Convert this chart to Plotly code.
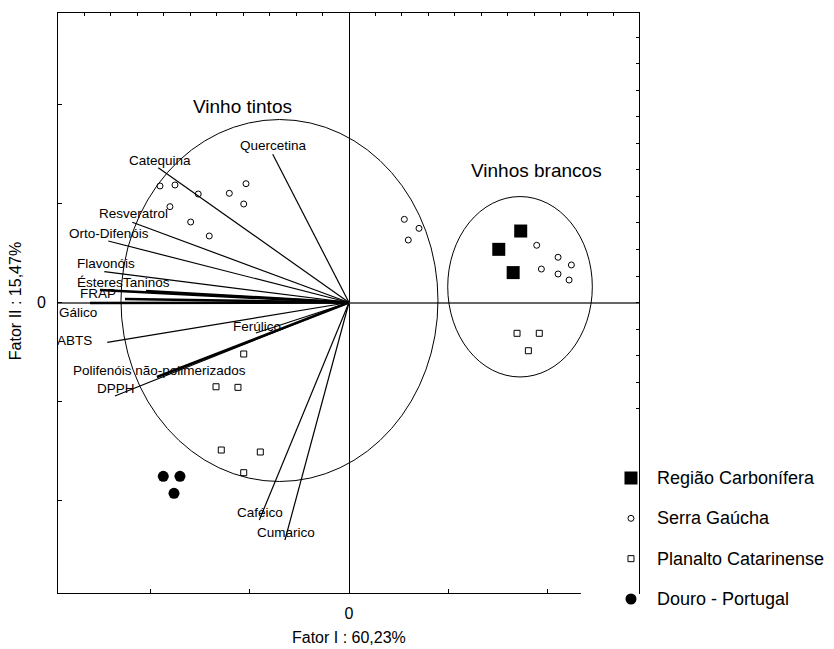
import plotly.graph_objects as go

# ---- Variable loadings (vector end points) ----
var_names = ["Quercetina", "Catequina", "Resveratrol", "Orto-Difenóis", "Flavonóis",
             "Ésteres", "Taninos", "FRAP", "Gálico", "ABTS", "Ferúlico",
             "Polifenóis não-polimerizados", "DPPH", "Caféico", "Cumarico"]
var_x = [-0.768, -1.920, -2.182, -2.424, -2.464, -2.508, -2.044, -2.256, -2.608,
         -2.434, -0.937, -1.934, -2.357, -0.903, -0.645]
var_y = [1.497, 1.362, 0.810, 0.621, 0.311, 0.126, 0.116, 0.035, -0.005,
         -0.402, -0.308, -0.753, -0.944, -2.197, -2.399]
# label anchor points for each variable
lab_x = [-0.765, -1.908, -2.165, -2.420, -2.447, -2.503, -2.034, -2.528, -2.729,
         -2.764, -0.926, -1.913, -2.351, -0.896, -0.634]
lab_y = [1.581, 1.439, 0.904, 0.702, 0.389, 0.207, 0.207, 0.096, -0.096,
         -0.379, -0.244, -0.682, -0.864, -2.123, -2.325]

# ---- Sample scores ----
region_names = ["Região Carbonífera", "Serra Gaúcha", "Planalto Catarinense", "Douro - Portugal"]
rc_x = [1.729, 1.508, 1.653]
rc_y = [0.722, 0.537, 0.302]
sg_x = [-1.903, -1.752, -1.518, -1.205, -1.037, -1.060, -1.803, -1.594, -1.407,
        0.557, 0.597, 0.705, 1.890, 2.105, 2.239, 1.937, 2.105, 2.216]
sg_y = [1.177, 1.187, 1.096, 1.103, 1.200, 0.995, 0.968, 0.813, 0.672,
        0.840, 0.631, 0.749, 0.578, 0.457, 0.379, 0.338, 0.288, 0.227]
pc_x = [-1.060, -1.339, -1.118, -1.286, -0.893, -1.060, 1.692, 1.916, 1.806]
pc_y = [-0.520, -0.851, -0.857, -1.490, -1.510, -1.719, -0.311, -0.311, -0.487]
dp_x = [-1.870, -1.702, -1.762]
dp_y = [-1.756, -1.756, -1.927]

# ---- Group ellipses (centre x, centre y, half width, half height) ----
group_names = ["Vinho tintos", "Vinhos brancos"]
ell_cx = [-0.700, 1.722]
ell_cy = [0.020, 0.159]
ell_rx = [1.596, 0.728]
ell_ry = [1.828, 0.911]
group_lab_x = [-1.073, 1.883]
group_lab_y = [1.978, 1.331]

x_title = "Fator I : 60,23%"
y_title = "Fator II : 15,47%"
main_ticks = [-2, -1, 0, 1, 2]
main_ticktext = ["", "", "0", "", ""]

XR = [-2.930, 2.920]
YR = [-2.934, 2.924]

FONT = "Liberation Sans, Arial, sans-serif"
thick = {"Ésteres", "Taninos", "FRAP", "Gálico", "Polifenóis não-polimerizados"}

marker_styles = [
    dict(symbol="square", size=13, color="black", line=dict(width=0)),
    dict(symbol="circle-open", size=6, color="black", line=dict(width=1)),
    dict(symbol="square-open", size=6, color="black", line=dict(width=1)),
    dict(symbol="circle", size=11, color="black", line=dict(width=0)),
]

fig = go.Figure()

# vectors
for name, vx, vy in zip(var_names, var_x, var_y):
    fig.add_trace(go.Scatter(x=[0, vx], y=[0, vy], mode="lines",
                             line=dict(color="black", width=2.6 if name in thick else 1.2),
                             showlegend=False, hoverinfo="skip"))

# samples
for name, xs, ys, st in zip(region_names, [rc_x, sg_x, pc_x, dp_x],
                            [rc_y, sg_y, pc_y, dp_y], marker_styles):
    fig.add_trace(go.Scatter(x=xs, y=ys, mode="markers", name=name, marker=st,
                             showlegend=False))

# legend drawn on its own hidden axes (one row per region)
leg_rows = [-i for i in range(len(region_names))]
for name, row, st in zip(region_names, leg_rows, marker_styles):
    fig.add_trace(go.Scatter(x=[0.862], y=[row], mode="markers", marker=st,
                             xaxis="x3", yaxis="y3", showlegend=False,
                             cliponaxis=False, hoverinfo="skip"))
    fig.add_annotation(xref="paper", yref="y3", x=1.0275, y=row, text=name,
                       showarrow=False, xanchor="left", yanchor="middle",
                       font=dict(family=FONT, size=18, color="black"))

# dummy trace for secondary axes
fig.add_trace(go.Scatter(x=[None], y=[None], xaxis="x2", yaxis="y2", showlegend=False,
                         hoverinfo="skip"))

# ellipses
for cx, cy, rx, ry in zip(ell_cx, ell_cy, ell_rx, ell_ry):
    fig.add_shape(type="circle", xref="x", yref="y", x0=cx - rx, x1=cx + rx,
                  y0=cy - ry, y1=cy + ry, line=dict(color="black", width=1))

# variable labels
for name, lx, ly in zip(var_names, lab_x, lab_y):
    fig.add_annotation(x=lx, y=ly, text=name, showarrow=False, xanchor="center",
                       yanchor="middle", font=dict(family=FONT, size=13.5, color="black"))

for name, gx, gy in zip(group_names, group_lab_x, group_lab_y):
    fig.add_annotation(x=gx, y=gy, text=name, showarrow=False, xanchor="center",
                       yanchor="middle", font=dict(family=FONT, size=19, color="black"))

fig.add_annotation(xref="paper", yref="paper", x=0.5, y=-0.047, text=x_title,
                   showarrow=False, xanchor="center", yanchor="middle",
                   font=dict(family=FONT, size=16, color="black"))
fig.add_annotation(xref="paper", yref="paper", x=-0.072, y=0.5168, text=y_title,
                   showarrow=False, xanchor="center", yanchor="middle", textangle=-90,
                   font=dict(family=FONT, size=16, color="black"))

hidden = dict(visible=False, showgrid=False, zeroline=False, fixedrange=True)
YDOM = [0.02685, 1.0]

# page body adds an 8px margin, so the figure is sized to fit the window exactly
fig.update_layout(
    width=826, height=641,
    margin=dict(l=50, r=195, t=5, b=40),
    paper_bgcolor="white", plot_bgcolor="white",
    font=dict(family=FONT, color="black"),
    showlegend=False,
    xaxis=dict(range=XR, showgrid=False, zeroline=True, zerolinecolor="black",
               zerolinewidth=1, showline=True, linecolor="black", linewidth=1,
               ticks="inside", ticklen=4, tickcolor="black",
               tickmode="array", tickvals=main_ticks, ticktext=main_ticktext,
               tickfont=dict(family=FONT, size=16, color="black"), ticklabelstandoff=6),
    yaxis=dict(range=YR, domain=YDOM, showgrid=False, zeroline=True, zerolinecolor="#666666",
               zerolinewidth=1.6, showline=True, linecolor="black", linewidth=1,
               ticks="inside", ticklen=4, tickcolor="black",
               tickmode="array", tickvals=main_ticks, ticktext=main_ticktext,
               tickfont=dict(family=FONT, size=16, color="black"), ticklabelstandoff=8),
    xaxis2=dict(range=XR, overlaying="x", side="top", anchor="y", showgrid=False,
                zeroline=False, showline=True, linecolor="black", linewidth=1,
                ticks="inside", ticklen=3, tickcolor="black", tickmode="linear",
                tick0=0, dtick=0.2664, showticklabels=False),
    yaxis2=dict(range=YR, domain=YDOM, overlaying="y", side="right", anchor="x",
                showgrid=False, zeroline=False, showline=True, linecolor="black",
                linewidth=1, ticks="inside", ticklen=3, tickcolor="black",
                tickmode="linear", tick0=0, dtick=0.2677, showticklabels=False),
    xaxis3=dict(hidden, domain=[0.9, 1.0], range=[0, 1], anchor="y3"),
    yaxis3=dict(hidden, domain=[0.0, 0.3], range=[-3.248, 1.185], anchor="x3"),
)

fig.write_html("out.html")
